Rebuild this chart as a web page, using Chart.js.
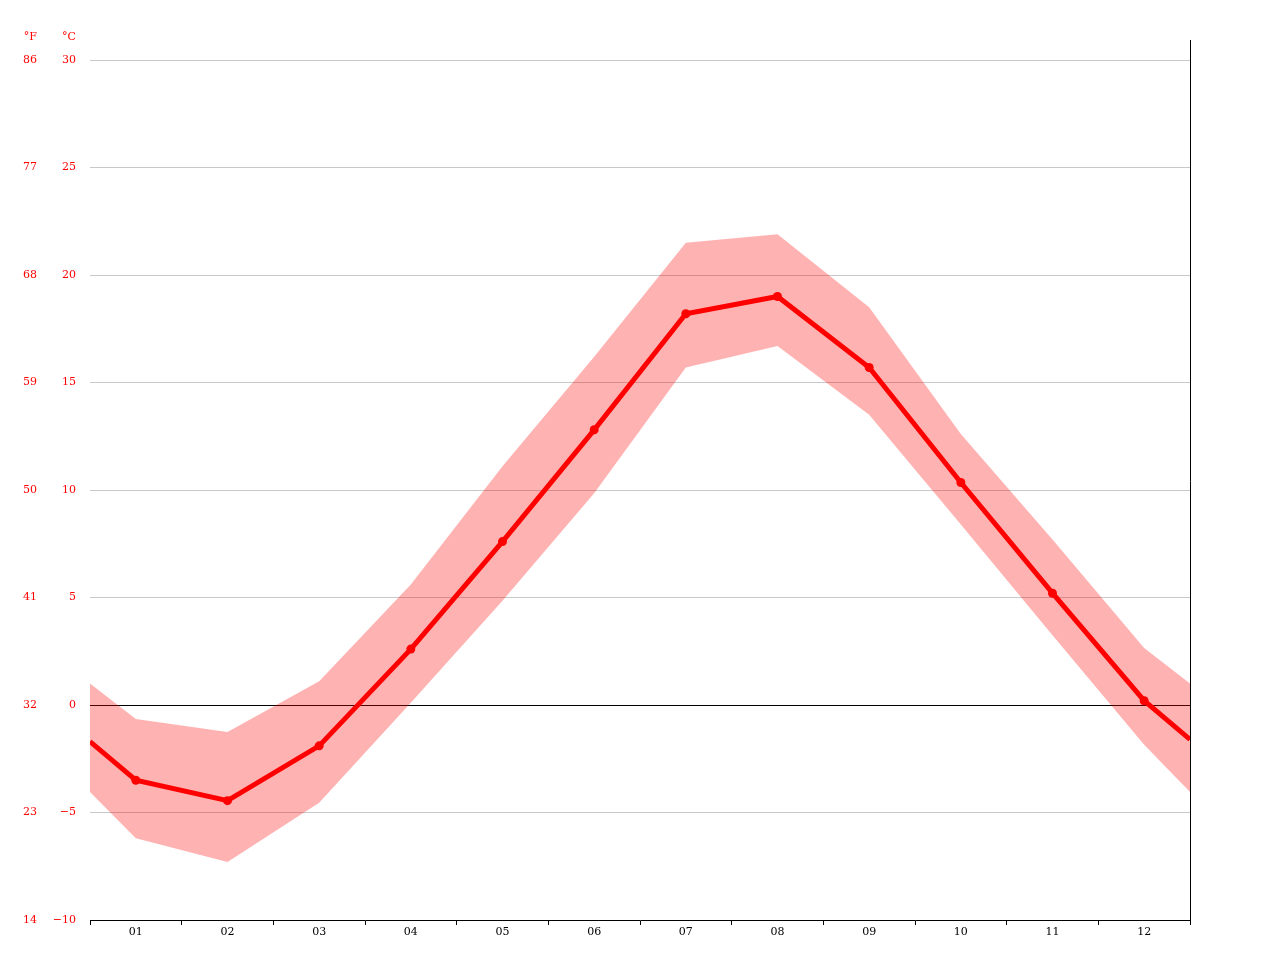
<!DOCTYPE html>
<html lang="en">
<head>
    <meta charset="UTF-8">
    <title>Climate chart</title>
    <script src="https://cdn.jsdelivr.net/npm/chart.js"></script>
    <style>
        html, body { margin: 0; padding: 0; background: #fff; }
        #wrap { width: 1280px; height: 960px; }
    </style>
</head>
<body>
    <div id="wrap"><canvas id="climate"></canvas></div>

    <script>
        // monthly values, degrees C
        const months = ['01', '02', '03', '04', '05', '06', '07', '08', '09', '10', '11', '12'];
        const meanTemp = [-3.5, -4.45, -1.9, 2.6, 7.6, 12.8, 18.2, 19.0, 15.7, 10.35, 5.2, 0.2];
        const maxTemp = [-0.65, -1.25, 1.1, 5.6, 11.1, 16.2, 21.5, 21.9, 18.5, 12.6, 7.7, 2.65];
        const minTemp = [-6.2, -7.3, -4.55, 0.1, 4.85, 9.85, 15.7, 16.7, 13.5, 8.4, 3.25, -1.85];
        // values at the left / right edge of the plot (half a month out)
        const edgeMean = [-1.7, -1.6];
        const edgeMax = [1.0, 1.0];
        const edgeMin = [-4.05, -4.05];
        const yTicks = [-10, -5, 0, 5, 10, 15, 20, 25, 30];

        function series(values, edges) {
            const pts = [{ x: 0.5, y: edges[0] }];
            values.forEach((v, i) => pts.push({ x: i + 1, y: v }));
            pts.push({ x: months.length + 0.5, y: edges[1] });
            return pts;
        }

        // real minus sign like the original labels
        const fmt = v => v < 0 ? '\u2212' + Math.abs(v) : String(v);

        const labelFont = { family: 'DejaVu Serif', size: 11 };

        // black zero line over the band, under the mean line
        const zeroLine = {
            id: 'zeroLine',
            beforeDatasetDraw(chart, args) {
                if (args.index !== 2) return;
                const { ctx, chartArea } = chart;
                const y = Math.round(chart.scales.y.getPixelForValue(0)) + 0.5;
                ctx.save();
                ctx.strokeStyle = '#000';
                ctx.lineWidth = 1;
                ctx.beginPath();
                ctx.moveTo(chartArea.left, y);
                ctx.lineTo(chartArea.right, y);
                ctx.stroke();
                ctx.restore();
            },
            afterDraw(chart) {
                const { ctx, chartArea } = chart;
                const x = Math.round(chartArea.right) + 0.5;
                ctx.save();
                ctx.strokeStyle = '#000';
                ctx.lineWidth = 1;
                ctx.beginPath();
                ctx.moveTo(x, chartArea.top - 20);
                ctx.lineTo(x, chartArea.bottom + 3);
                ctx.stroke();
                // unit headers
                ctx.fillStyle = '#ff0000';
                ctx.font = '11px "DejaVu Serif"';
                ctx.textAlign = 'right';
                ctx.textBaseline = 'middle';
                ctx.fillText('°F', 37, 37);
                ctx.fillText('°C', 76, 37);
                ctx.restore();
            }
        };

        new Chart(document.getElementById('climate'), {
            type: 'line',
            data: {
                datasets: [
                    {
                        label: 'max',
                        data: series(maxTemp, edgeMax),
                        borderWidth: 0,
                        borderColor: 'rgba(0,0,0,0)',
                        backgroundColor: 'rgba(255, 0, 0, 0.3)',
                        pointRadius: 0,
                        fill: '+1',
                        tension: 0
                    },
                    {
                        label: 'min',
                        data: series(minTemp, edgeMin),
                        borderWidth: 0,
                        borderColor: 'rgba(0,0,0,0)',
                        pointRadius: 0,
                        fill: false,
                        tension: 0
                    },
                    {
                        label: 'mean',
                        data: series(meanTemp, edgeMean),
                        borderColor: '#ff0000',
                        backgroundColor: '#ff0000',
                        borderWidth: 5,
                        pointRadius: ctx => (ctx.dataIndex === 0 || ctx.dataIndex === months.length + 1) ? 0 : 4.5,
                        pointBorderWidth: 0,
                        fill: false,
                        tension: 0
                    }
                ]
            },
            options: {
                responsive: true,
                maintainAspectRatio: false,
                animation: false,
                layout: { padding: { top: 60, right: 90, bottom: 0, left: 0 } },
                plugins: {
                    legend: { display: false },
                    tooltip: { enabled: false }
                },
                scales: {
                    x: {
                        type: 'linear',
                        min: 0.5,
                        max: 12.5,
                        afterBuildTicks: scale => {
                            const t = [];
                            for (let v = 0.5; v <= 12.5; v += 0.5) t.push({ value: v });
                            scale.ticks = t;
                        },
                        afterFit: scale => { scale.height = 40; },
                        border: { display: true, color: '#000', width: 1 },
                        grid: {
                            drawOnChartArea: false,
                            drawTicks: true,
                            tickLength: 5,
                            tickColor: ctx => Number.isInteger(ctx.tick.value) ? 'rgba(0,0,0,0)' : '#000'
                        },
                        ticks: {
                            autoSkip: false,
                            maxRotation: 0,
                            padding: 1,
                            color: '#000',
                            font: labelFont,
                            callback: v => Number.isInteger(v) ? months[v - 1] : ''
                        }
                    },
                    y: {
                        position: 'left',
                        weight: 0,
                        min: -10,
                        max: 30,
                        afterBuildTicks: scale => { scale.ticks = yTicks.map(v => ({ value: v })); },
                        afterFit: scale => { scale.width = 40; },
                        border: { display: false },
                        grid: {
                            drawTicks: false,
                            color: ctx => ctx.tick.value === -10 ? 'rgba(0,0,0,0)' : '#c8c8c8'
                        },
                        ticks: { padding: 14, color: '#ff0000', font: labelFont, callback: fmt }
                    },
                    yF: {
                        position: 'left',
                        weight: 1,
                        min: -10,
                        max: 30,
                        afterBuildTicks: scale => { scale.ticks = yTicks.map(v => ({ value: v })); },
                        afterFit: scale => { scale.width = 50; },
                        border: { display: false },
                        grid: { display: false, drawTicks: false },
                        ticks: {
                            padding: 13,
                            color: '#ff0000',
                            font: labelFont,
                            callback: v => fmt(Math.round(v * 9 / 5 + 32))
                        }
                    }
                }
            },
            plugins: [zeroLine]
        });
    </script>
</body>
</html>
